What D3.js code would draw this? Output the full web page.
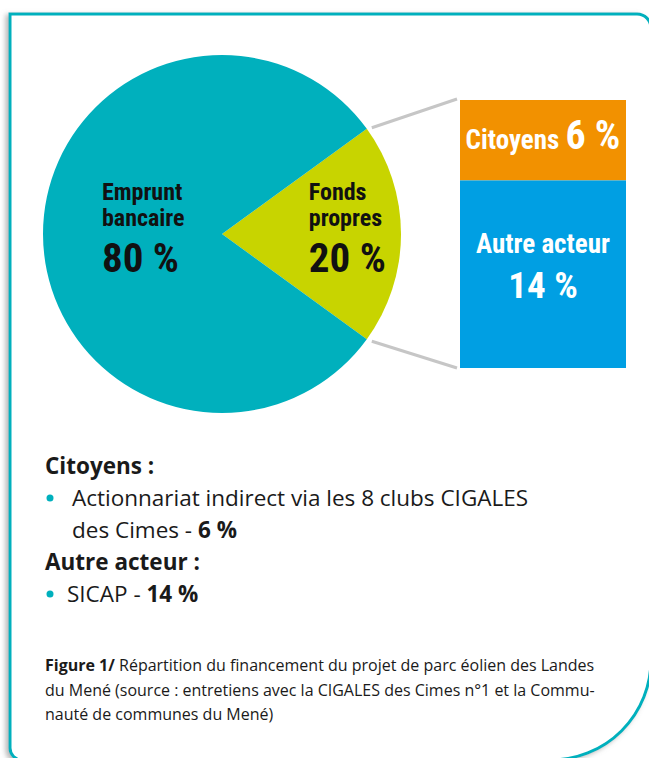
<!DOCTYPE html>
<html>
<head>
<meta charset="utf-8">
<script src="https://cdn.jsdelivr.net/npm/d3@7"></script>
<style>
  body { margin: 0; background: #fff; }
  .cond { font-family: "Liberation Sans Narrow", "Roboto Condensed", "DejaVu Sans Condensed", sans-serif; font-weight: bold; }
  .body { font-family: "Open Sans", "DejaVu Sans", sans-serif; }
</style>
</head>
<body>
<svg id="chart" width="649" height="758"></svg>
<script>
// data
var pieLabels = [["Fonds", "propres"], ["Emprunt", "bancaire"]];
var pieValues = [20, 80];
var barLabels = ["Citoyens", "Autre acteur"];
var barValues = [6, 14];
var pieColors = ["#c8d400", "#00b0bd"];
var barColors = ["#f29100", "#009fe3"];

var svg = d3.select("#chart");

// frame with shadow on the left
var defs = svg.append("defs");
var f = defs.append("filter").attr("id", "shadow")
  .attr("x", "-5%").attr("y", "-5%").attr("width", "110%").attr("height", "110%");
f.append("feDropShadow").attr("dx", -3).attr("dy", 2).attr("stdDeviation", 2.5)
  .attr("flood-color", "#888").attr("flood-opacity", 0.6);

var fx0 = 10, fy0 = 14, fx1 = 651, fy1 = 760;
var frame = d3.path();
frame.moveTo(fx0, fy1 - 12);
frame.lineTo(fx0, fy0);
frame.lineTo(fx1 - 14, fy0);
frame.arcTo(fx1, fy0, fx1, fy0 + 14, 14);
frame.lineTo(fx1, fy1 - 100);
frame.arcTo(fx1, fy1, fx1 - 100, fy1, 100);
frame.lineTo(fx0 + 12, fy1);
frame.arcTo(fx0, fy1, fx0, fy1 - 12, 12);
frame.closePath();
svg.append("path").attr("d", frame.toString())
  .attr("fill", "#fff").attr("stroke", "#00b0bd").attr("stroke-width", 3)
  .attr("filter", "url(#shadow)");

// pie
var cx = 222, cy = 234, r = 179;
var pie = d3.pie().sort(null)
  .startAngle(54 * Math.PI / 180)
  .endAngle(414 * Math.PI / 180);
var arcs = pie(pieValues);
var arc = d3.arc().innerRadius(0).outerRadius(r);

var g = svg.append("g").attr("transform", "translate(" + cx + "," + cy + ")");
g.selectAll("path.slice").data(arcs).enter().append("path")
  .attr("class", "slice")
  .attr("d", arc)
  .attr("fill", function(d, i) { return pieColors[i]; });

var labelR = [0.7, 0.44];
arcs.forEach(function(d, i) {
  var la = d3.arc().innerRadius(r * labelR[i]).outerRadius(r * labelR[i]);
  var c = la.centroid(d);
  var lg = g.append("g").attr("class", "cond");
  pieLabels[i].forEach(function(line, j) {
    lg.append("text").attr("x", 0).attr("y", -34 + j * 26)
      .attr("font-size", 24).attr("fill", "#111").text(line);
  });
  lg.append("text").attr("x", 0).attr("y", 38)
    .attr("font-size", 41).attr("fill", "#111").text(pieValues[i] + " %");
  var w = lg.node().getBBox().width;
  lg.attr("transform", "translate(" + (c[0] - w / 2) + "," + c[1] + ")");
});

// stacked bar for the 20 %
var barX = 460, barW = 166;
var y = d3.scaleLinear().domain([0, d3.sum(barValues)]).range([100, 368]);
var stack = [];
var acc = 0;
barValues.forEach(function(v, i) { stack.push({ i: i, y0: acc, y1: acc + v }); acc += v; });

svg.selectAll("rect.bar").data(stack).enter().append("rect")
  .attr("class", "bar")
  .attr("x", barX).attr("width", barW)
  .attr("y", function(d) { return y(d.y0); })
  .attr("height", function(d) { return y(d.y1) - y(d.y0); })
  .attr("fill", function(d) { return barColors[d.i]; });

// connector lines
var a = arcs[0];
var pTop = [cx + r * Math.sin(a.startAngle), cy - r * Math.cos(a.startAngle)];
var pBot = [cx + r * Math.sin(a.endAngle), cy - r * Math.cos(a.endAngle)];
svg.append("line").attr("x1", pTop[0] + 5).attr("y1", pTop[1] - 1)
  .attr("x2", barX - 3).attr("y2", y(0) - 1)
  .attr("stroke", "#c6c6c6").attr("stroke-width", 3);
svg.append("line").attr("x1", pBot[0] + 5).attr("y1", pBot[1] + 2)
  .attr("x2", barX - 3).attr("y2", y(acc))
  .attr("stroke", "#c6c6c6").attr("stroke-width", 3);

// bar labels
var midX = barX + barW / 2;
var s0 = stack[0];
var t0 = svg.append("text").attr("class", "cond").attr("fill", "#fff")
  .attr("text-anchor", "middle")
  .attr("x", midX).attr("y", (y(s0.y0) + y(s0.y1)) / 2 + 9);
t0.append("tspan").attr("font-size", 27).text(barLabels[0] + " ");
t0.append("tspan").attr("font-size", 40).text(barValues[0] + " %");

var s1 = stack[1];
var m1 = (y(s1.y0) + y(s1.y1)) / 2;
svg.append("text").attr("class", "cond").attr("fill", "#fff")
  .attr("text-anchor", "middle").attr("font-size", 27)
  .attr("x", midX).attr("y", m1 - 21).text(barLabels[1]);
svg.append("text").attr("class", "cond").attr("fill", "#fff")
  .attr("text-anchor", "middle").attr("font-size", 37)
  .attr("x", midX).attr("y", m1 + 24).text(barValues[1] + " %");

// details below the chart
var tx = 45, ty = 474, lh = 32;
var body = svg.append("g").attr("class", "body").attr("fill", "#1a1a1a").attr("font-size", 22.5);
body.append("text").attr("x", tx).attr("y", ty).attr("font-weight", "bold").text(barLabels[0] + " :");
body.append("circle").attr("cx", tx + 5).attr("cy", ty + lh - 8).attr("r", 3.5).attr("fill", "#00b0bd");
body.append("text").attr("x", tx + 27).attr("y", ty + lh).text("Actionnariat indirect via les 8 clubs CIGALES");
var l3 = body.append("text").attr("x", tx + 27).attr("y", ty + 2 * lh);
l3.append("tspan").text("des Cimes - ");
l3.append("tspan").attr("font-weight", "bold").text(barValues[0] + " %");
body.append("text").attr("x", tx).attr("y", ty + 3 * lh).attr("font-weight", "bold").text(barLabels[1] + " :");
body.append("circle").attr("cx", tx + 5).attr("cy", ty + 4 * lh - 8).attr("r", 3.5).attr("fill", "#00b0bd");
var l5 = body.append("text").attr("x", tx + 22).attr("y", ty + 4 * lh);
l5.append("tspan").text("SICAP - ");
l5.append("tspan").attr("font-weight", "bold").text(barValues[1] + " %");

// caption
var cap = svg.append("g").attr("class", "body").attr("fill", "#1a1a1a").attr("font-size", 16);
var c1 = cap.append("text").attr("x", tx).attr("y", 671);
c1.append("tspan").attr("font-weight", "bold").text("Figure 1/");
c1.append("tspan").text(" Répartition du financement du projet de parc éolien des Landes");
cap.append("text").attr("x", tx).attr("y", 696)
  .text("du Mené (source : entretiens avec la CIGALES des Cimes n°1 et la Commu-");
cap.append("text").attr("x", tx).attr("y", 720)
  .text("nauté de communes du Mené)");
</script>
</body>
</html>
